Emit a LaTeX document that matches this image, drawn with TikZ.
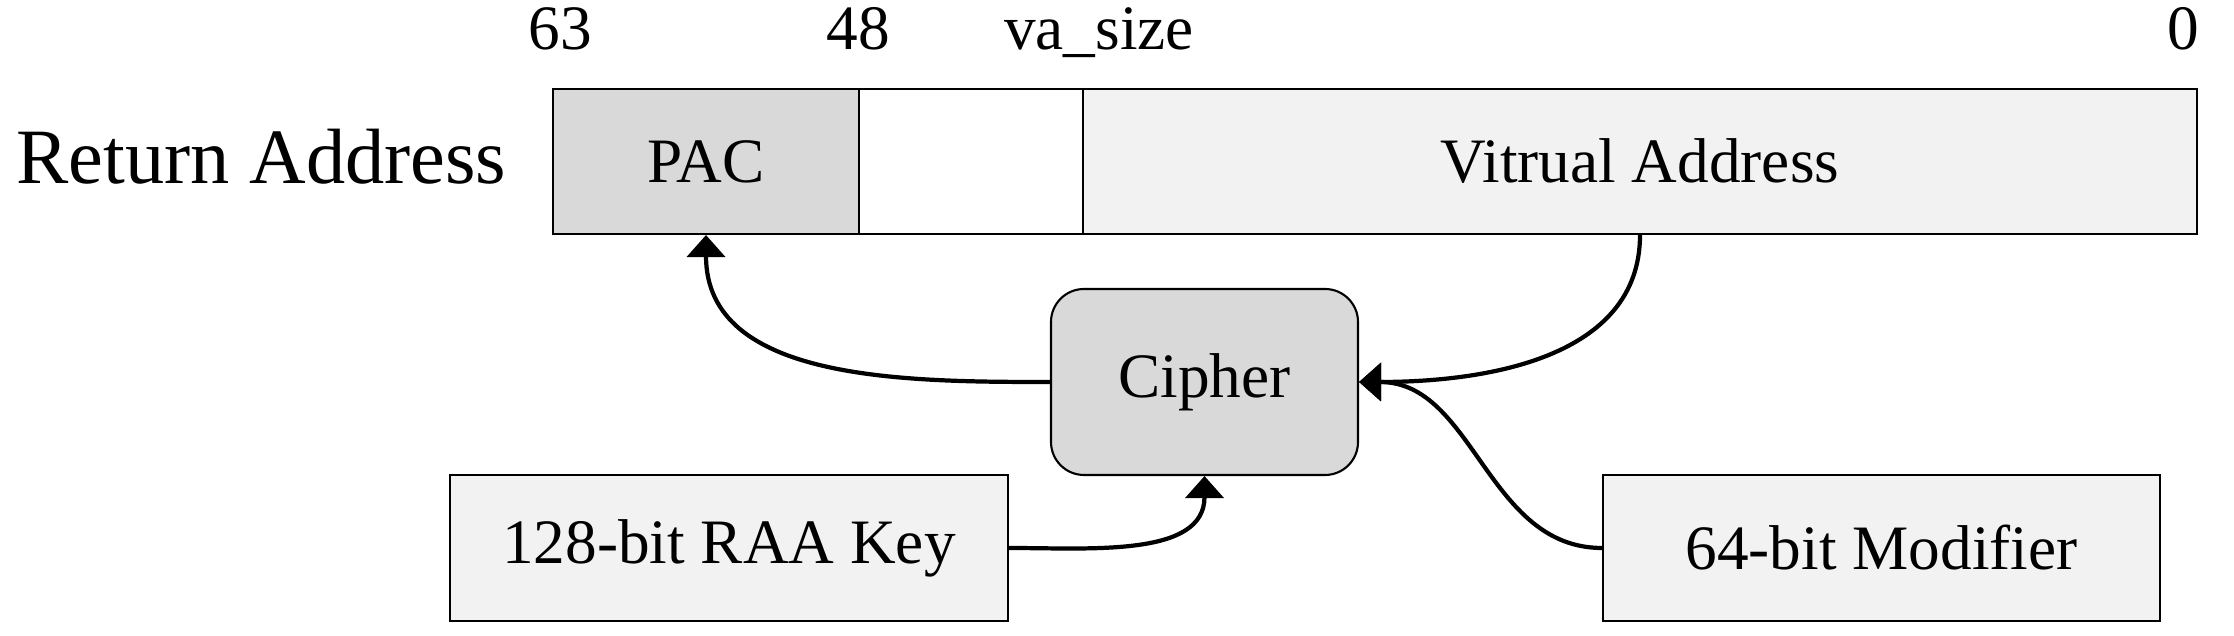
\documentclass[tikz,border=0pt]{standalone}
\usepackage{fontspec}
\setmainfont{Liberation Serif}
\usetikzlibrary{arrows.meta}
\definecolor{darkcell}{HTML}{D9D9D9}
\definecolor{lightcell}{HTML}{F2F2F2}
\begin{document}
\begin{tikzpicture}[x = {(1cm,0cm)},
    y = {(0cm,1cm)},
    font = {\fontsize{18}{22}\selectfont}]
    % styles of cells, boxes and arrows
    \tikzset{cellstyle/.style={draw=black,line width=0.6pt,minimum height=1.45cm,inner sep=0pt},
      boxstyle/.style={draw=black,line width=0.6pt,fill=lightcell,minimum width=5.58cm,minimum height=1.46cm},
      bitstyle/.style={anchor=base,inner sep=0pt},
      flowstyle/.style={line width=1.2pt,-{Triangle[length=0.22cm,width=0.38cm]}}}
    \useasboundingbox (0,0) rectangle (22.34,6.36);
    % label "return address"
    \node[anchor=base west,inner sep=0pt,font={\fontsize{22.3}{26}\selectfont}] (ret) at (0.16,4.52) {Return Address};
    % cell "PAC"
    \node[cellstyle,fill=darkcell,minimum width=3.06cm] (pac) at (7.06,4.745) {PAC};
    % cell "unused"
    \node[cellstyle,fill=white,minimum width=2.24cm] (gap) at (9.71,4.745) {};
    % cell "virtual address"
    \node[cellstyle,fill=lightcell,minimum width=11.14cm] (va) at (16.40,4.745) {Vitrual Address};
    % bit positions
    \node[bitstyle] (b63) at (5.60,5.86) {63};
    \node[bitstyle] (b48) at (8.58,5.86) {48};
    \node[bitstyle] (bva) at (10.99,5.86) {va\_size};
    \node[bitstyle] (b0) at (21.83,5.86) {0};
    % cipher
    \node[draw=black,line width=0.6pt,fill=darkcell,rounded corners=0.33cm,
      minimum width=3.07cm,minimum height=1.86cm] (cipher) at (12.045,2.54) {Cipher};
    % inputs
    \node[boxstyle] (key) at (7.29,0.88) {128-bit RAA Key};
    \node[boxstyle,minimum width=5.57cm] (mod) at (18.815,0.88) {64-bit Modifier};
    % arrows
    \draw[flowstyle] (cipher.west) to[out=180,in=-90] (pac.south);
    \draw[flowstyle] (va.south) to[out=-90,in=0] (cipher.east);
    \draw[flowstyle] (mod.west) to[out=180,in=0] (cipher.east);
    \draw[flowstyle] (key.east) to[out=0,in=-90] (cipher.south);
  \end{tikzpicture}
\end{document}
